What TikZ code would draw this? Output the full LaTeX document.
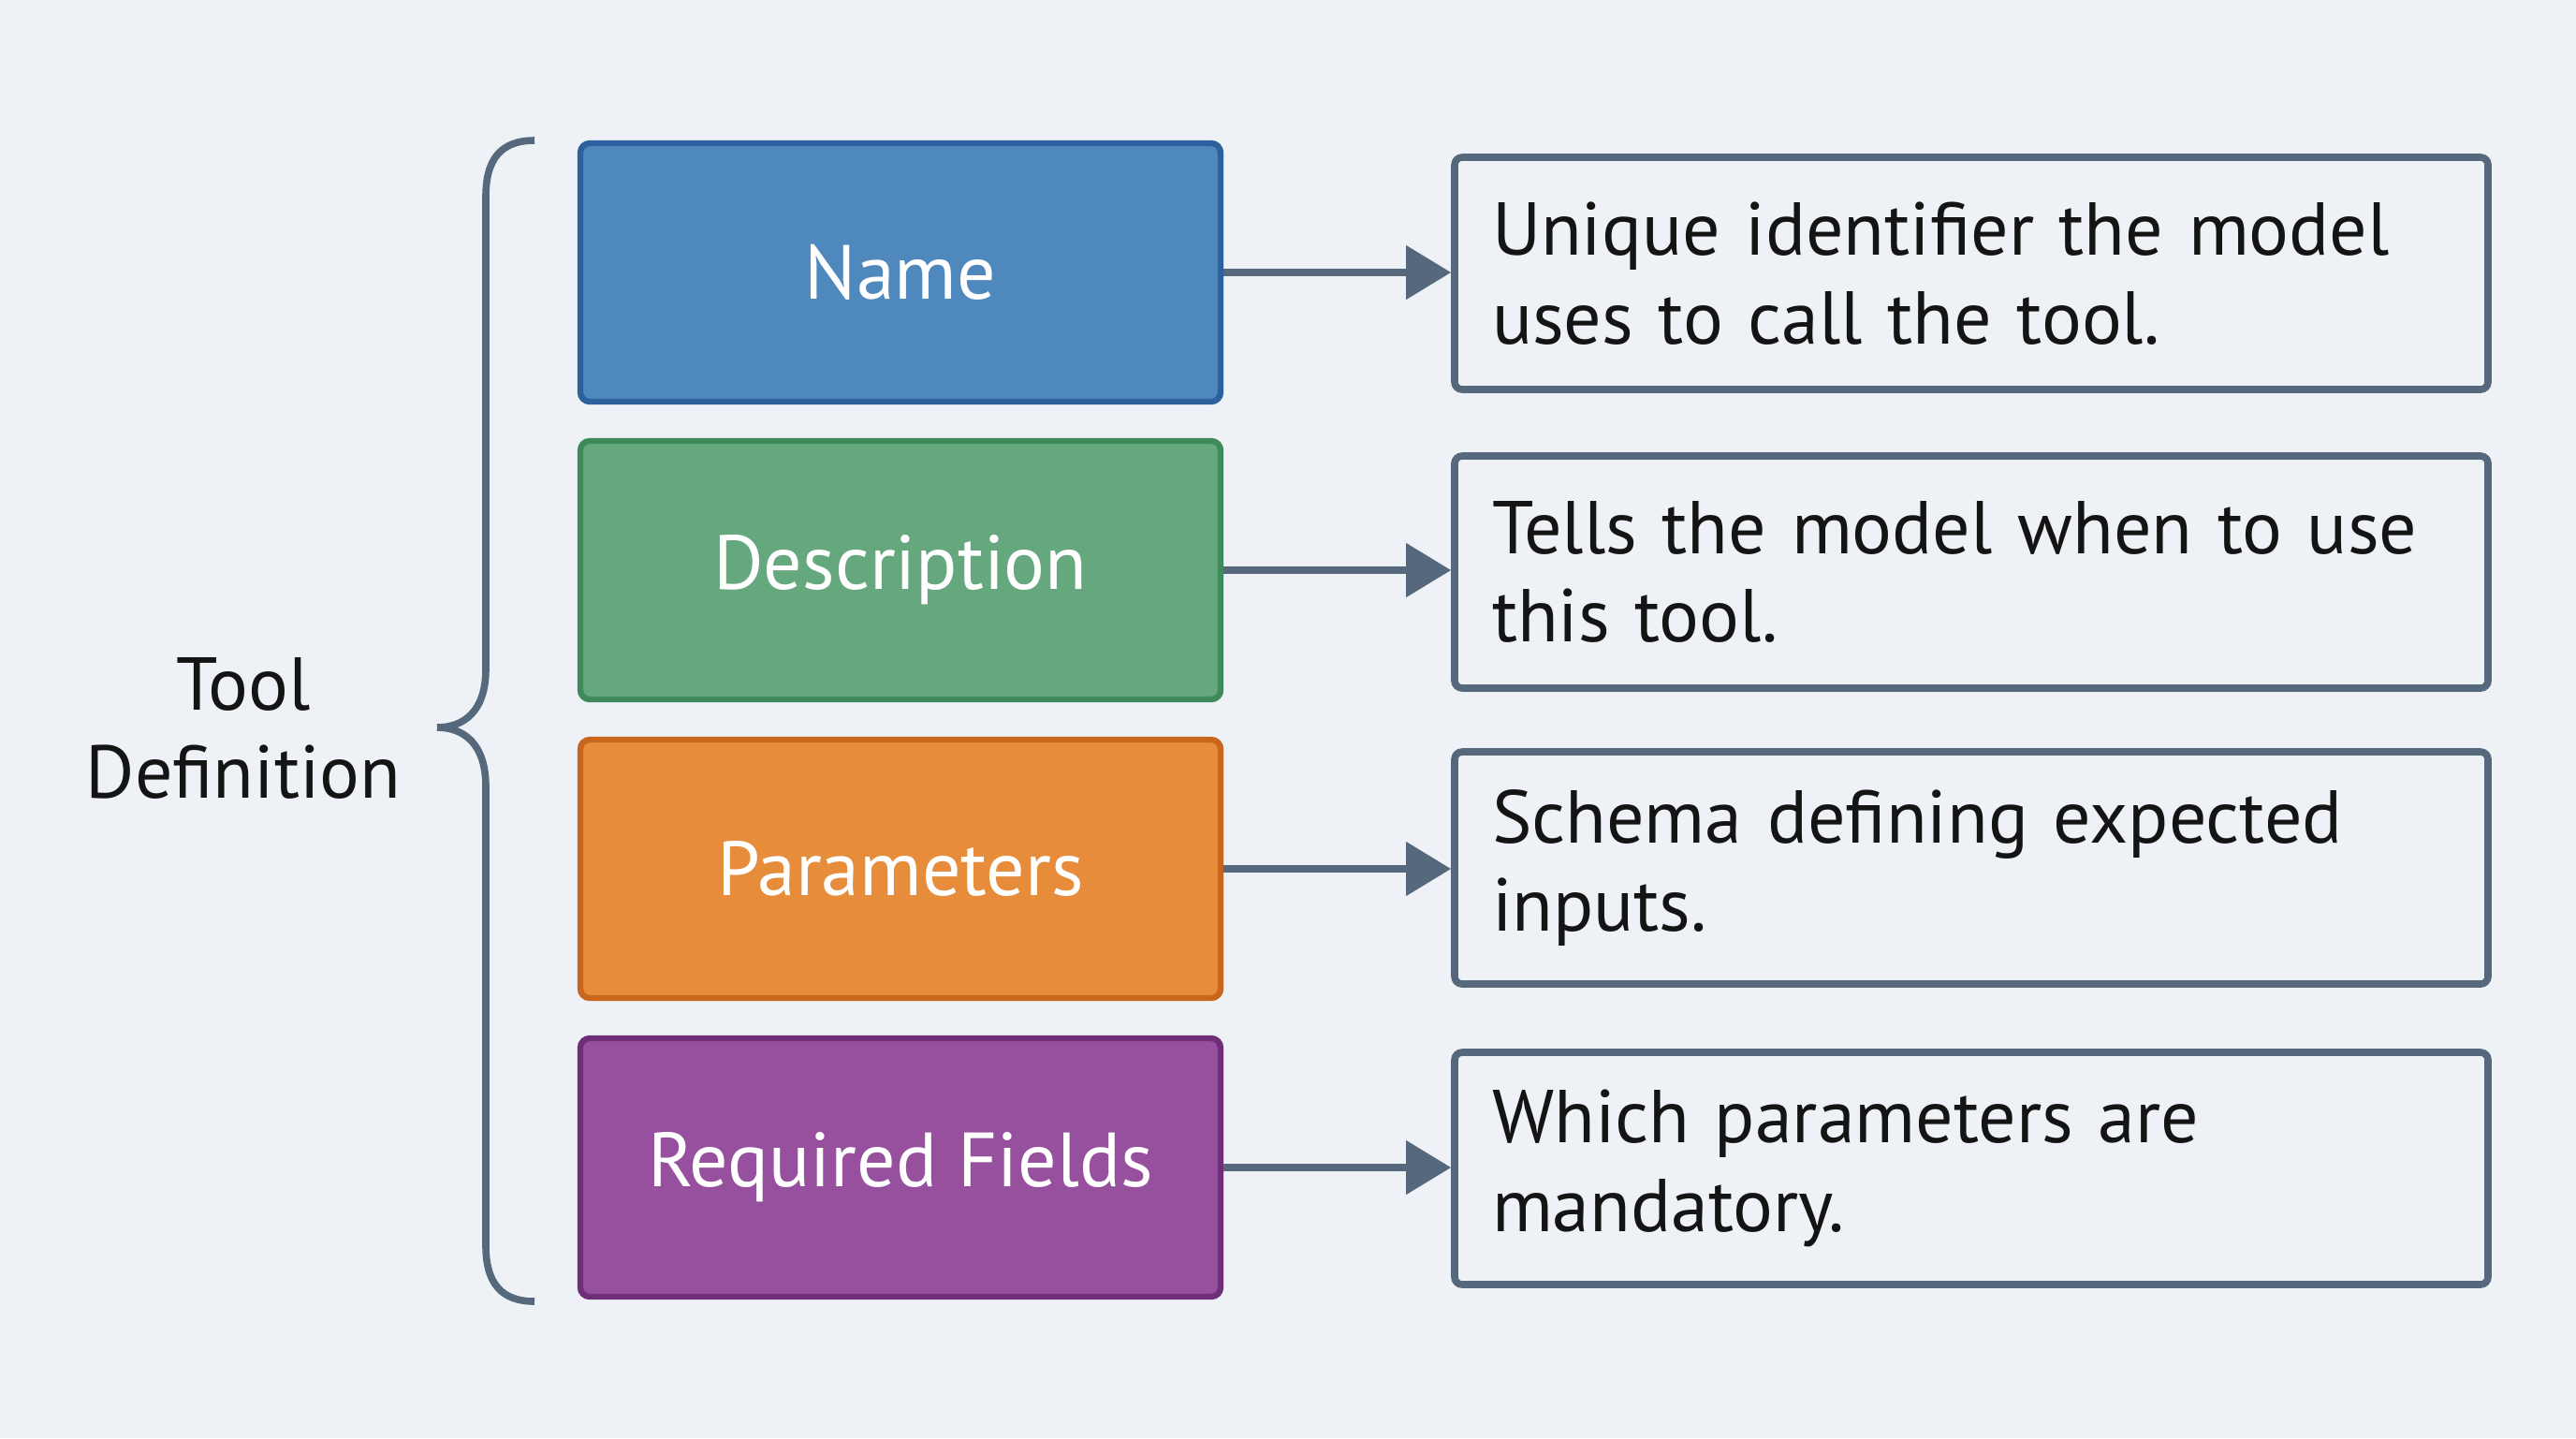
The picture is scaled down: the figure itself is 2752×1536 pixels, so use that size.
\documentclass[tikz,border=0pt]{standalone}
\usepackage{fontspec}
\setmainfont{PT Sans}
\usetikzlibrary{arrows.meta}
\definecolor{bgc}{HTML}{EEF2F6}
\definecolor{edgec}{HTML}{56697C}
\definecolor{bluef}{HTML}{4F88BD}
\definecolor{blued}{HTML}{2D619D}
\definecolor{greenf}{HTML}{65A87E}
\definecolor{greend}{HTML}{3F8A5B}
\definecolor{orangef}{HTML}{E68C3A}
\definecolor{oranged}{HTML}{C9661E}
\definecolor{purplef}{HTML}{96509E}
\definecolor{purpled}{HTML}{6E2E78}
\definecolor{txt}{HTML}{141414}
\tikzset{
  field/.style={draw=#1, line width=1.6pt, rounded corners=2.5pt,
    minimum width=171pt, minimum height=69pt, inner sep=0pt,
    text=white, font=\fontsize{20.5}{24}\selectfont},
  descbox/.style={draw=edgec, fill=bgc, line width=1.9pt, rounded corners=2pt,
    minimum width=276pt, minimum height=62pt, inner xsep=10pt, inner ysep=0pt,
    text width=256pt, align=left, text=txt,
    font=\fontsize{20}{23.6}\selectfont},
  conn/.style={draw=edgec, line width=2pt, -{Triangle[length=12pt,width=14pt]}},
}
\begin{document}
\begin{tikzpicture}[x=0.25pt, y=-0.25pt]
\useasboundingbox[fill=bgc] (0,0) rectangle (2752,1536);
\node[field=blued, fill=bluef] (f1) at (962,291) {Name};
\node[field=greend, fill=greenf] (f2) at (962,609) {Description};
\node[field=oranged, fill=orangef] (f3) at (962,928) {Parameters};
\node[field=purpled, fill=purplef] (f4) at (962,1247) {Required Fields};
\node[descbox] (d1) at (2106,292) {Unique identifier the model uses to call the tool.};
\node[descbox] (d2) at (2106,611) {Tells the model when to use this tool.};
\node[descbox] (d3) at (2106,927) {Schema defining expected inputs.};
\node[descbox] (d4) at (2106,1248) {Which parameters are mandatory.};
\draw[conn] (f1.east) -- (f1.east -| d1.west);
\draw[conn] (f2.east) -- (f2.east -| d2.west);
\draw[conn] (f3.east) -- (f3.east -| d3.west);
\draw[conn] (f4.east) -- (f4.east -| d4.west);
\node[align=center, text=txt, font=\fontsize{20}{23.6}\selectfont] (tool) at (260,778) {Tool\\Definition};
\draw[edgec, line width=1.9pt] (571,150) .. controls (535,150) and (519,170) .. (519,210) -- (519,715) .. controls (519,760) and (495,777) .. (467,777) .. controls (495,777) and (519,794) .. (519,840) -- (519,1330) .. controls (519,1370) and (535,1390) .. (571,1390);
\end{tikzpicture}
\end{document}
